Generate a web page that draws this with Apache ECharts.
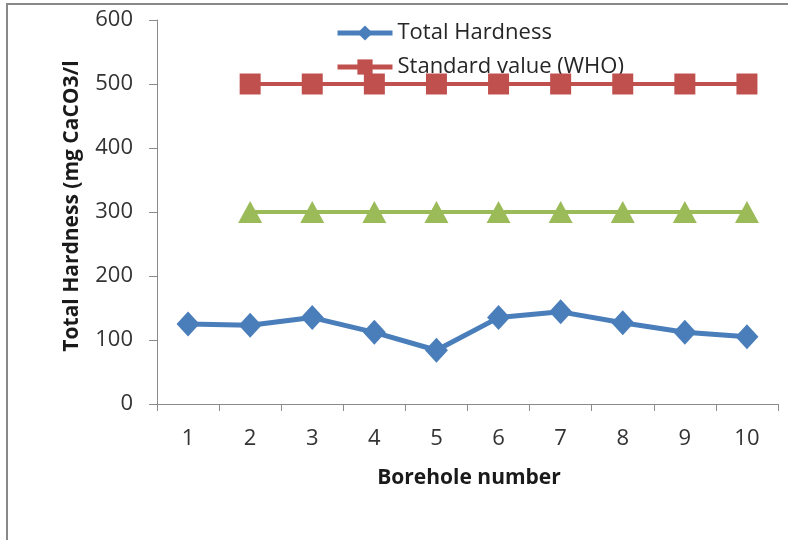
<!DOCTYPE html>
<html>
<head>
<meta charset="utf-8">
<script src="https://cdn.jsdelivr.net/npm/echarts@6/dist/echarts.min.js"></script>
<style>
  html, body { margin: 0; padding: 0; background: #fff; }
  #chart { width: 788px; height: 540px; }
</style>
</head>
<body>
<div id="chart"></div>
<script>
// Borehole numbers along the x axis
const boreholes = ['1', '2', '3', '4', '5', '6', '7', '8', '9', '10'];
// Measured total hardness per borehole (mg CaCO3/l)
const totalHardness = [125, 123, 135, 112, 84, 135, 144, 127, 112, 105];
// WHO standard value, drawn from borehole 2 onward
const whoStandard = [null, 500, 500, 500, 500, 500, 500, 500, 500, 500];
// Second reference level, drawn from borehole 2 onward
const referenceLevel = [null, 300, 300, 300, 300, 300, 300, 300, 300, 300];
// Value axis ticks
const yTicks = [0, 100, 200, 300, 400, 500, 600];

const FONT = '"Open Sans", "Noto Sans", sans-serif';
const chart = echarts.init(document.getElementById('chart'), null, { renderer: 'canvas' });

chart.setOption({
  animation: false,
  backgroundColor: '#ffffff',
  grid: { left: 157, right: 10, top: 20, bottom: 136, containLabel: false },
  legend: {
    orient: 'vertical',
    left: 335,
    top: 22,
    padding: 0,
    z: 1,
    itemWidth: 55,
    itemHeight: 19,
    itemGap: 12,
    lineStyle: { width: 5 },
    data: ['Total Hardness', 'Standard value (WHO)'],
    textStyle: { fontFamily: FONT, fontSize: 22, color: '#262626' }
  },
  xAxis: {
    type: 'category',
    data: boreholes,
    boundaryGap: true,
    axisLine: { lineStyle: { color: '#8a8a8a', width: 1 } },
    axisTick: { show: true, inside: false, length: 7, alignWithLabel: false, lineStyle: { color: '#8a8a8a' } },
    axisLabel: { margin: 24, fontFamily: FONT, fontSize: 22, color: '#333333' },
    splitLine: { show: false }
  },
  yAxis: {
    type: 'value',
    min: yTicks[0],
    max: yTicks[yTicks.length - 1],
    interval: yTicks[1] - yTicks[0],
    axisLine: { show: true, lineStyle: { color: '#8a8a8a', width: 1 } },
    axisTick: { show: true, inside: false, length: 8, lineStyle: { color: '#8a8a8a' } },
    axisLabel: { margin: 24, fontFamily: FONT, fontSize: 22, color: '#333333' },
    splitLine: { show: false }
  },
  series: [
    {
      name: 'Total Hardness',
      type: 'line',
      data: totalHardness,
      z: 5,
      symbol: 'diamond',
      symbolSize: [23, 25],
      lineStyle: { color: '#4a7ebb', width: 5 },
      itemStyle: { color: '#4a7ebb' }
    },
    {
      name: 'Standard value (WHO)',
      type: 'line',
      data: whoStandard,
      z: 5,
      symbol: 'rect',
      symbolSize: 21,
      lineStyle: { color: '#c0504d', width: 4 },
      itemStyle: { color: '#c0504d' }
    },
    {
      name: 'Reference level',
      type: 'line',
      data: referenceLevel,
      z: 5,
      symbol: 'triangle',
      symbolSize: [24, 22],
      lineStyle: { color: '#9bbb59', width: 4 },
      itemStyle: { color: '#9bbb59' }
    }
  ],
  graphic: [
    // outer frame (left and top edges)
    { type: 'rect', shape: { x: 6, y: 3, width: 782, height: 2 }, style: { fill: '#898989' }, silent: true },
    { type: 'rect', shape: { x: 6, y: 3, width: 2, height: 537 }, style: { fill: '#898989' }, silent: true },
    // axis titles
    {
      type: 'text',
      x: 72, y: 206,
      rotation: Math.PI / 2,
      style: {
        text: 'Total Hardness (mg CaCO3/l',
        fontFamily: FONT, fontSize: 21, fontWeight: 'bold', fill: '#1a1a1a',
        align: 'center', verticalAlign: 'middle'
      }
    },
    {
      type: 'text',
      x: 469, y: 478,
      style: {
        text: 'Borehole number',
        fontFamily: FONT, fontSize: 21, fontWeight: 'bold', fill: '#1a1a1a',
        align: 'center', verticalAlign: 'middle'
      }
    }
  ]
});
</script>
</body>
</html>
